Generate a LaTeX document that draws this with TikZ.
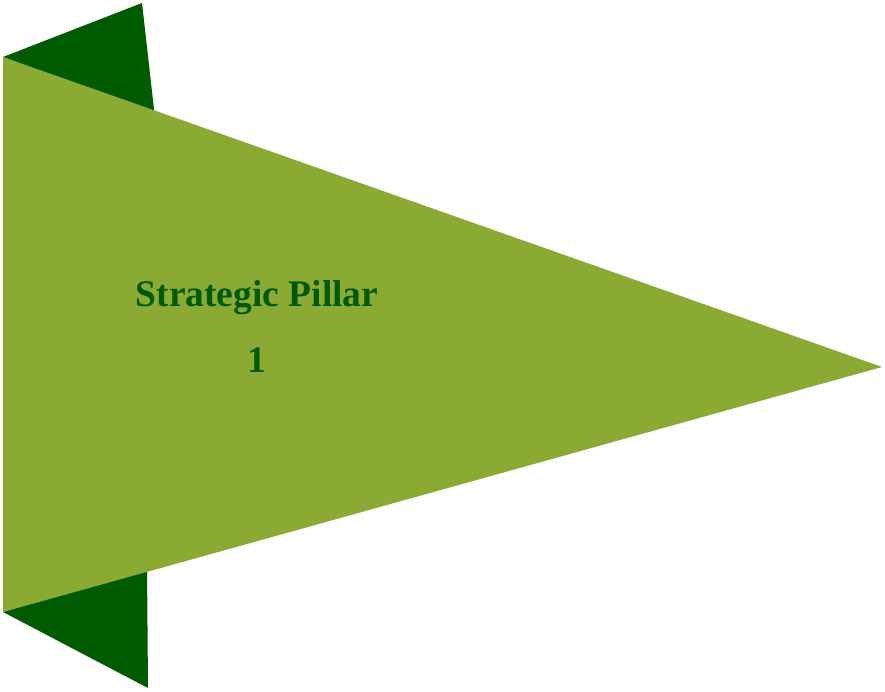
\documentclass[tikz,border=0pt]{standalone}
\usepackage{fontspec}
\setmainfont{Liberation Serif}
\usepackage{tikz}
\usetikzlibrary{positioning}
\definecolor{pillarlight}{HTML}{8BAA33}
\definecolor{pillardark}{HTML}{005A00}
\tikzset{
  pillartext/.style={text=pillardark, font=\fontsize{37.5}{44}\selectfont\bfseries, inner sep=0pt, anchor=base}
}

\begin{document}
\begin{tikzpicture}[x=1pt, y=-1pt]
  \useasboundingbox (0,0) rectangle (885,692);
  % folded flaps behind the pennant
  \fill[pillardark] (3,57) -- (142,3) -- (155,118) -- cycle;
  \fill[pillardark] (3,612) -- (148,688) -- (147,565) -- cycle;
  % the pennant
  \fill[pillarlight] (3,57) -- (882,367) -- (3,612) -- cycle;
  \node[pillartext] (title) at (257,306) {Strategic Pillar};
  \node[pillartext] (number) at (257,372) {1};
\end{tikzpicture}
\end{document}
